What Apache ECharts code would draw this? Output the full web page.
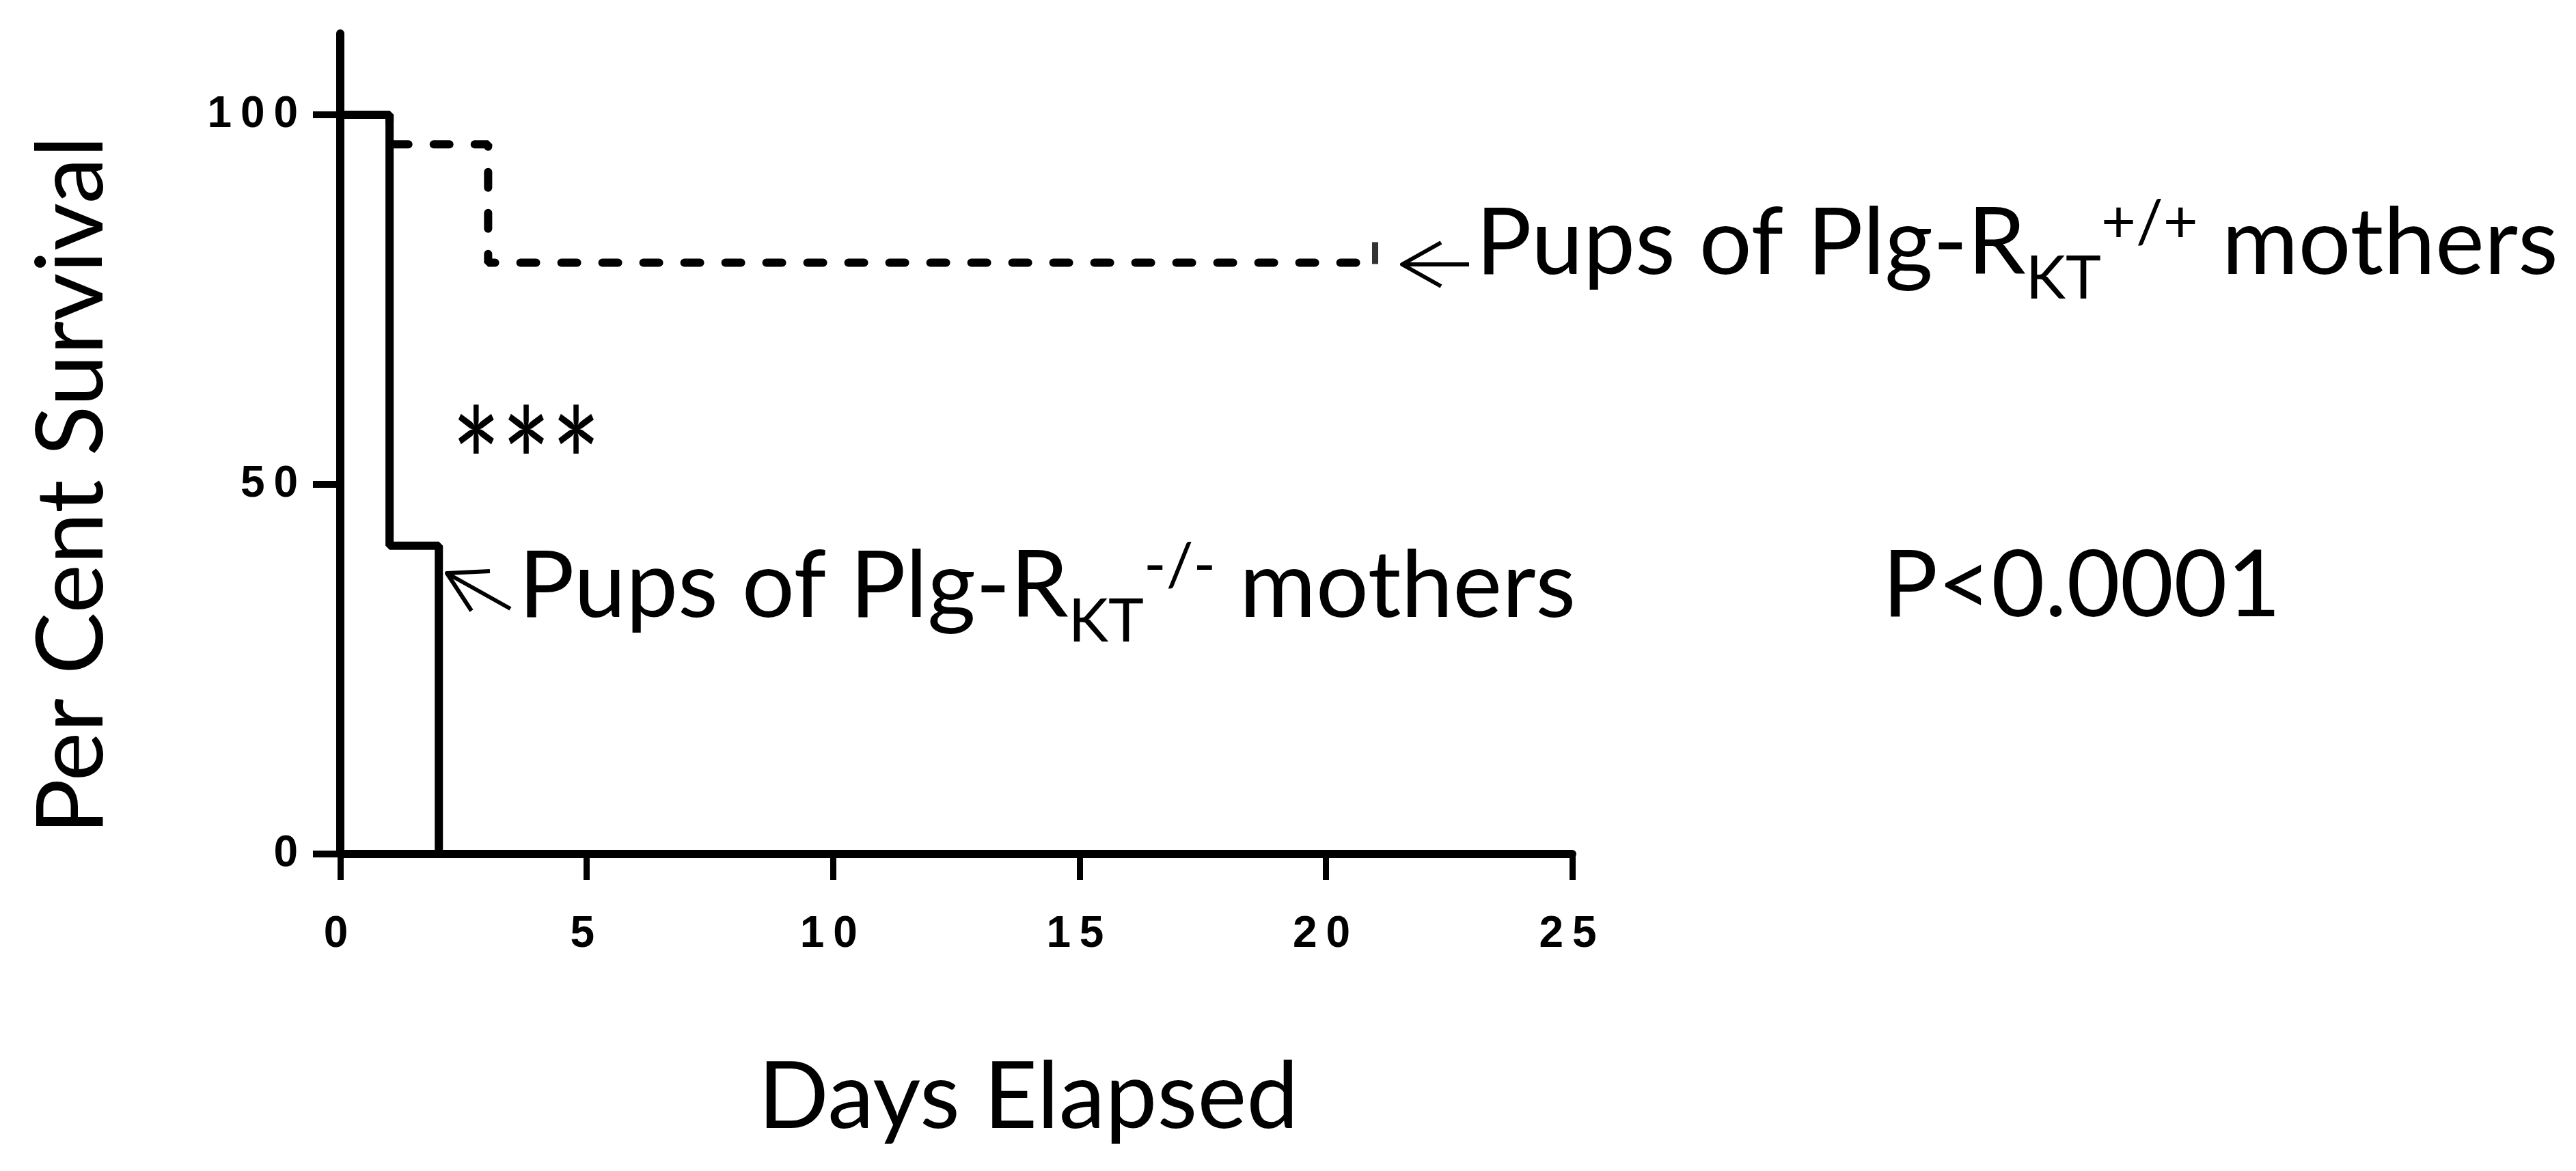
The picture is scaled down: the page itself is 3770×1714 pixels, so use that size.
<!DOCTYPE html>
<html>
<head>
<meta charset="utf-8">
<title>Per Cent Survival</title>
<script src="https://cdn.jsdelivr.net/npm/echarts@6/dist/echarts.min.js"></script>
<style>
  html, body { margin: 0; padding: 0; background: #fff; }
  #chart { width: 3770px; height: 1714px; }
</style>
</head>
<body>
<div id="chart"></div>
<script>
// survival curves (Kaplan-Meier, per cent)
const wtDays = [0, 1, 3, 21];
const wtSurvival = [100, 96, 80, 80];
const koDays = [0, 1, 2];
const koSurvival = [100, 41.7, 0];
// censored point at the end of the +/+ curve
const censorDays = [21];
const censorSurvival = [80];
// axis ticks
const xTicks = [0, 5, 10, 15, 20, 25];
const yTicks = [0, 50, 100];

const wtData = wtDays.map((d, i) => [d, wtSurvival[i]]);
const koData = koDays.map((d, i) => [d, koSurvival[i]]);
const censorData = censorDays.map((d, i) => [d, censorSurvival[i]]);

const textFont = 'Lato, "Open Sans", sans-serif';
const tickFont = '"Liberation Sans", Arial, sans-serif';
const labelRich = {
  m: { fontFamily: textFont, fontSize: 136, fill: '#000' },
  sub: { fontFamily: textFont, fontSize: 88, fill: '#000', padding: [104, 0, 0, 0] },
  sup: { fontFamily: textFont, fontSize: 88, fill: '#000', padding: [0, 0, 60, 0] }
};

// GraphPad spreads the digits out a bit
function spaced(v) {
  return String(v).split('').join('\u2009');
}

const chart = echarts.init(document.getElementById('chart'));

const option = {
  backgroundColor: '#fff',
  animation: false,
  grid: {
    left: 498,
    right: 1469,
    top: 49,
    bottom: 464,
    outerBoundsMode: 'none'
  },
  xAxis: {
    type: 'value',
    min: 0,
    max: 25,
    interval: 5,
    splitLine: { show: false },
    axisLine: { lineStyle: { color: '#000', width: 12, cap: 'round' } },
    axisTick: {
      show: true,
      length: 38,
      customValues: xTicks,
      lineStyle: { color: '#000', width: 9 }
    },
    axisLabel: {
      customValues: xTicks,
      margin: 86,
      color: '#000',
      fontFamily: tickFont,
      fontWeight: 'bold',
      fontSize: 64,
      formatter: v => spaced(v) + '\u2009'
    }
  },
  yAxis: {
    type: 'value',
    min: 0,
    max: 111,
    interval: 50,
    splitLine: { show: false },
    axisLine: { lineStyle: { color: '#000', width: 12, cap: 'round' } },
    axisTick: {
      show: true,
      length: 40,
      customValues: yTicks,
      lineStyle: { color: '#000', width: 10 }
    },
    axisLabel: {
      customValues: yTicks,
      margin: 62,
      color: '#000',
      fontFamily: tickFont,
      fontWeight: 'bold',
      fontSize: 64,
      formatter: v => spaced(v)
    }
  },
  series: [
    {
      name: 'Plg-RKT+/+',
      type: 'line',
      step: 'end',
      data: wtData,
      symbol: 'none',
      z: 3,
      lineStyle: { color: '#000', width: 12, type: [23, 37], cap: 'round' }
    },
    {
      name: 'censored',
      type: 'scatter',
      data: censorData,
      symbol: 'rect',
      symbolSize: [9, 32],
      symbolOffset: [0, -14],
      z: 3,
      itemStyle: { color: '#000' }
    },
    {
      name: 'Plg-RKT-/-',
      type: 'line',
      step: 'end',
      data: koData,
      symbol: 'none',
      z: 4,
      lineStyle: { color: '#000', width: 12 }
    }
  ],
  graphic: [
    // arrow pointing at the +/+ curve
    {
      type: 'polyline',
      shape: { points: [[2150, 387], [2052, 387]] },
      style: { stroke: '#000', lineWidth: 6, fill: null }
    },
    {
      type: 'polyline',
      shape: { points: [[2109, 355], [2052, 387], [2109, 419]] },
      style: { stroke: '#000', lineWidth: 6, fill: null, lineJoin: 'round' }
    },
    // arrow pointing at the -/- curve
    {
      type: 'polyline',
      shape: { points: [[747, 891], [654, 839]] },
      style: { stroke: '#000', lineWidth: 6, fill: null }
    },
    {
      type: 'polyline',
      shape: { points: [[717, 836], [654, 839], [690, 894]] },
      style: { stroke: '#000', lineWidth: 6, fill: null, lineJoin: 'round' }
    },
    {
      type: 'text',
      x: 2160,
      y: 357,
      style: {
        text: '{m|Pups of Plg-R}{sub|KT}{sup|+/+}{m| mothers}',
        align: 'left',
        verticalAlign: 'middle',
        rich: labelRich
      }
    },
    {
      type: 'text',
      x: 759,
      y: 859,
      style: {
        text: '{m|Pups of Plg-R}{sub|KT}{sup|-/-}{m| mothers}',
        align: 'left',
        verticalAlign: 'middle',
        rich: labelRich
      }
    },
    {
      type: 'text',
      x: 770,
      y: 688,
      scaleY: 1.3,
      style: {
        text: '***',
        align: 'center',
        verticalAlign: 'middle',
        font: '172px ' + textFont,
        fill: '#000'
      }
    },
    {
      type: 'text',
      x: 2755,
      y: 858,
      style: {
        text: 'P<0.0001',
        align: 'left',
        verticalAlign: 'middle',
        font: '135px ' + textFont,
        fill: '#000'
      }
    },
    {
      type: 'text',
      x: 1505,
      y: 1607,
      style: {
        text: 'Days Elapsed',
        align: 'center',
        verticalAlign: 'middle',
        font: '136px ' + textFont,
        fill: '#000'
      }
    },
    {
      type: 'text',
      x: 106,
      y: 710,
      rotation: Math.PI / 2,
      style: {
        text: 'Per Cent Survival',
        align: 'center',
        verticalAlign: 'middle',
        font: '136px ' + textFont,
        fill: '#000'
      }
    }
  ]
};

chart.setOption(option);
window.addEventListener('resize', function () {
  chart.resize();
});
</script>
</body>
</html>
